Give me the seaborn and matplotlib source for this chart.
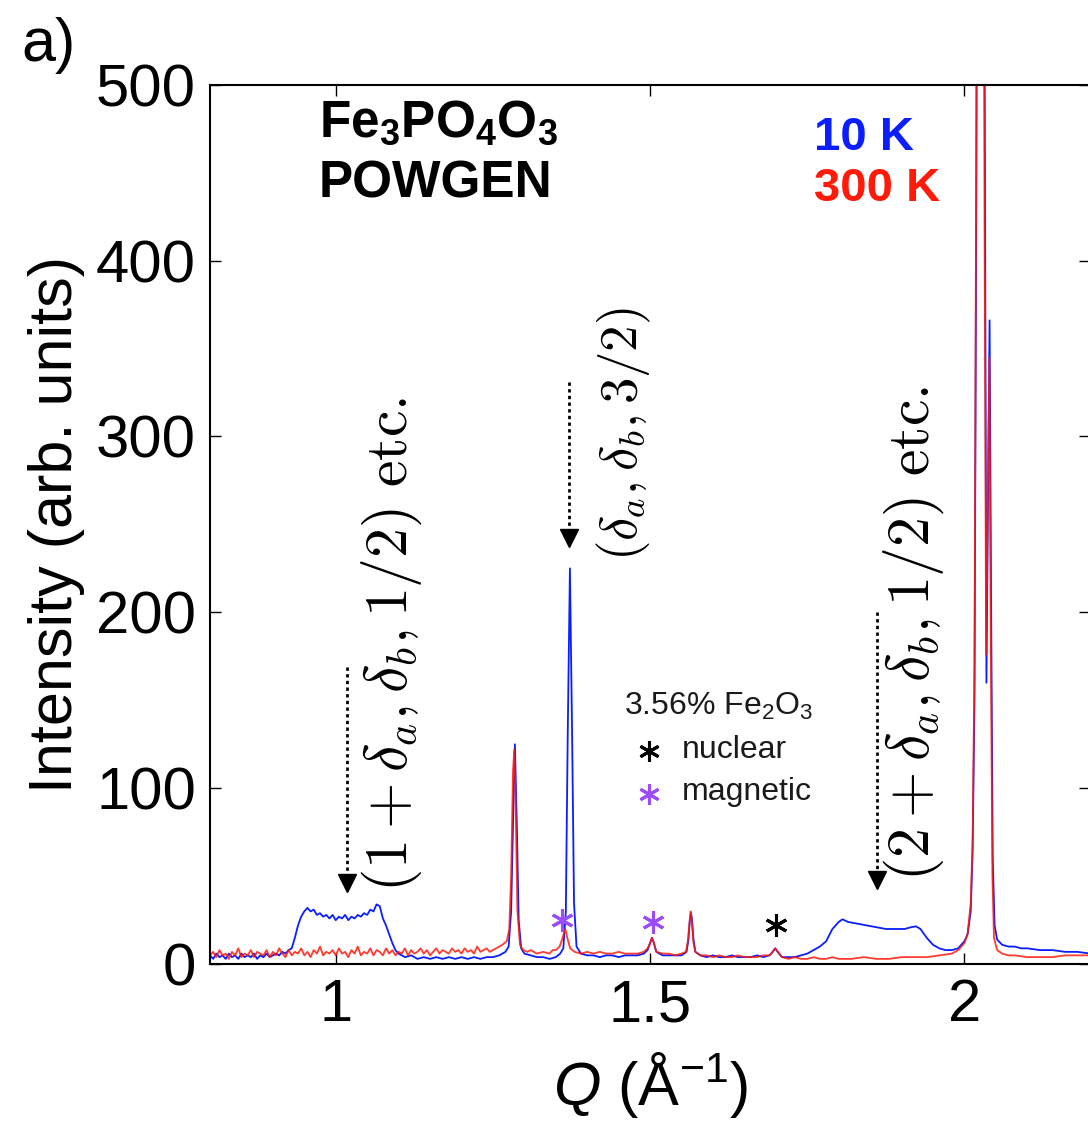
import numpy as np
import pandas as pd
import seaborn as sns
import matplotlib.pyplot as plt

# ---- data: Q (1/A) and intensity (arb. units) ----
# 10 K (blue)
base_q_10k = np.round(np.arange(0.800, 0.9301, 0.005), 3)
base_i_10k = [5, 3, 6, 4, 5, 3, 6, 4, 5, 3, 6, 4, 5, 4, 6, 3, 5, 4, 6, 4, 5, 6, 5, 7, 6, 8, 9]
q_10k = [0.935, 0.940, 0.945, 0.950, 0.955, 0.960, 0.965, 0.970, 0.975, 0.980, 0.985, 0.990,
         0.995, 1.000, 1.005, 1.010, 1.015, 1.020, 1.025, 1.030, 1.035, 1.040, 1.045, 1.050,
         1.055, 1.060, 1.065, 1.070, 1.075, 1.080, 1.085, 1.090, 1.095, 1.100, 1.105,
         1.11, 1.12, 1.13, 1.14, 1.15, 1.16, 1.17, 1.18, 1.19, 1.20, 1.21, 1.22, 1.23, 1.24,
         1.25, 1.26, 1.27, 1.275, 1.279, 1.282, 1.285, 1.288, 1.291, 1.295, 1.300,
         1.31, 1.32, 1.33, 1.34, 1.35, 1.357, 1.362, 1.366, 1.369, 1.3725, 1.376, 1.379, 1.383,
         1.39, 1.40, 1.41, 1.42, 1.43, 1.44, 1.45, 1.46, 1.47, 1.48, 1.49, 1.496, 1.500, 1.503,
         1.506, 1.510, 1.52, 1.53, 1.54, 1.55, 1.558, 1.561, 1.5635, 1.565, 1.5665, 1.569, 1.572,
         1.58, 1.59, 1.60, 1.61, 1.62, 1.63, 1.64, 1.65, 1.66, 1.67, 1.68, 1.69, 1.695, 1.699,
         1.703, 1.71, 1.72, 1.73, 1.74, 1.75, 1.76, 1.77, 1.78, 1.79, 1.80, 1.806, 1.815, 1.83,
         1.845, 1.86, 1.875, 1.89, 1.905, 1.915, 1.923, 1.93, 1.94, 1.95, 1.96, 1.97, 1.98, 1.99,
         2.00, 2.005, 2.010, 2.013, 2.016, 2.019, 2.022, 2.026, 2.030, 2.033, 2.035, 2.0375,
         2.040, 2.0425, 2.045, 2.048, 2.052, 2.06, 2.07, 2.08, 2.09, 2.10, 2.12, 2.14, 2.16,
         2.18, 2.20]
i_10k = [15, 22, 27, 30, 32, 30, 31, 28, 29, 27, 28, 26,
         28, 25, 27, 26, 28, 25, 27, 26, 28, 27, 29, 28,
         31, 30, 34, 33, 26, 22, 17, 12, 8, 6, 5,
         4, 5, 3, 4, 3, 4, 3, 4, 3, 4, 3, 4, 3, 4,
         4, 5, 7, 10, 30, 80, 125, 80, 25, 9, 6,
         5, 4, 4, 3, 4, 6, 9, 30, 130, 225, 130, 35, 10,
         6, 5, 5, 4, 5, 5, 4, 5, 5, 5, 6, 8, 12, 15,
         12, 7, 5, 5, 5, 5, 7, 14, 26, 29, 26, 14, 7,
         5, 4, 5, 4, 4, 5, 4, 4, 4, 5, 4, 5, 7, 9,
         7, 4, 4, 4, 5, 6, 8, 10, 13, 20, 24, 25.5, 24, 23,
         22, 21, 20, 20, 20, 21, 21.5, 20, 15, 11, 9, 8, 8, 9,
         13, 17, 30, 64, 150, 450, 900, 1200, 800, 400, 160, 260,
         366, 200, 60, 22, 14, 11, 10, 10, 9, 9, 8, 8, 7,
         7, 6]

# 300 K (red)
base_q_300k = np.round(np.arange(0.800, 1.2651, 0.005), 3)
base_i_300k = [5, 7, 4, 8, 5, 6, 3, 7, 5, 9, 4, 6, 5, 8, 4, 7, 6, 5, 8, 4,
               7, 5, 9, 6, 4, 8, 5, 7, 6, 9, 5, 7, 4, 8, 6, 10, 5, 7, 6, 8,
               5, 9, 6, 7, 4, 8, 6, 10, 5, 7, 6, 9, 5, 8, 7, 5, 9, 6, 8, 5,
               7, 6, 9, 5, 8, 6, 7, 9, 6, 8, 5, 7, 9, 6, 8, 7, 6, 9, 7, 8,
               6, 9, 7, 8, 6, 10, 7, 8, 9, 7, 8, 9, 10, 11]
q_300k = [1.272, 1.276, 1.279, 1.282, 1.284, 1.286, 1.289, 1.293, 1.298, 1.305, 1.31, 1.32,
          1.33, 1.34, 1.345, 1.350, 1.356, 1.360, 1.365, 1.369, 1.373, 1.38, 1.39, 1.40, 1.41,
          1.42, 1.43, 1.44, 1.45, 1.46, 1.47, 1.48, 1.49, 1.496, 1.500, 1.503, 1.506, 1.510,
          1.52, 1.53, 1.54, 1.55, 1.557, 1.560, 1.563, 1.5645, 1.566, 1.569, 1.572, 1.58, 1.59,
          1.60, 1.61, 1.62, 1.63, 1.64, 1.65, 1.66, 1.67, 1.68, 1.69, 1.695, 1.699, 1.703, 1.71,
          1.72, 1.73, 1.74, 1.75, 1.76, 1.77, 1.78, 1.79, 1.80, 1.82, 1.84, 1.86, 1.88, 1.90,
          1.92, 1.94, 1.96, 1.98, 1.99, 2.00, 2.005, 2.010, 2.013, 2.016, 2.019, 2.022, 2.025,
          2.029, 2.032, 2.0345, 2.037, 2.0395, 2.042, 2.0445, 2.047, 2.052, 2.06, 2.07, 2.08,
          2.10, 2.12, 2.14, 2.16, 2.18, 2.20]
i_300k = [13, 20, 50, 110, 122, 95, 30, 11, 8, 7, 8, 6,
          7, 6, 8, 8, 10, 14, 20, 14, 9, 7, 6, 7, 6,
          7, 6, 6, 7, 6, 6, 6, 7, 9, 12, 15, 12, 7,
          6, 6, 5, 6, 7, 13, 25, 30, 26, 12, 7, 5, 5,
          4, 5, 4, 4, 5, 4, 4, 4, 5, 5, 7, 9, 7, 4,
          3, 4, 3, 3, 4, 3, 3, 4, 3, 3, 4, 3, 3, 4,
          4, 4, 5, 6, 8, 12, 17, 35, 70, 170, 480, 950, 1250,
          850, 420, 176, 260, 345, 180, 50, 15, 8, 6, 5, 5,
          4, 4, 4, 5, 5, 5]

# Fe2O3 impurity peaks (Q, intensity of marker)
mag_q = [1.360, 1.505]
mag_i = [25, 24]
nuc_q = [1.701]
nuc_i = [22]

blue = '#0a1eff'
red = '#ff1a0a'
purple = '#9a4dff'

df10 = pd.DataFrame({'Q': np.concatenate([base_q_10k, q_10k]),
                     'I': np.concatenate([base_i_10k, i_10k])})
df300 = pd.DataFrame({'Q': np.concatenate([base_q_300k, q_300k]),
                      'I': np.concatenate([base_i_300k, i_300k])})

sns.set_style('ticks')
plt.rcParams['font.family'] = ['Liberation Sans', 'DejaVu Sans']
plt.rcParams['mathtext.fontset'] = 'custom'
plt.rcParams['mathtext.rm'] = 'Liberation Sans'
plt.rcParams['mathtext.it'] = 'Liberation Sans:italic'
plt.rcParams['mathtext.bf'] = 'Liberation Sans:bold'
for k in ['text.color', 'axes.labelcolor', 'xtick.color', 'ytick.color', 'axes.edgecolor']:
    plt.rcParams[k] = 'black'

fig = plt.figure(figsize=(10.88, 11.29), dpi=100)
ax = fig.add_axes([0.193, 0.146, 0.809, 0.779])

sns.lineplot(data=df10, x='Q', y='I', ax=ax, color=blue, lw=1.3, sort=False, estimator=None)
sns.lineplot(data=df300, x='Q', y='I', ax=ax, color=red, lw=1.3, sort=False, estimator=None, alpha=0.85)

ax.set_xlim(0.8, 2.2)
ax.set_ylim(0, 500)
ax.set_xticks([1, 1.5, 2])
ax.set_xticklabels(['1', '1.5', '2'])
ax.set_yticks([0, 100, 200, 300, 400, 500])
ax.tick_params(direction='in', length=8, width=1, labelsize=43, top=True, right=True, pad=10)
for s in ax.spines.values():
    s.set_linewidth(1.5)

ax.set_ylabel('Intensity (arb. units)', fontsize=44, labelpad=8)
ax.set_xlabel(r'$Q$ (Å$^{\mathregular{-1}}$)', fontsize=44, labelpad=12)

fig.text(0.02, 0.985, 'a)', fontsize=44, ha='left', va='top')

# sample / instrument
ax.text(0.973, 492, r'Fe$_\mathbf{3}$PO$_\mathbf{4}$O$_\mathbf{3}$' + '\nPOWGEN', fontsize=37,
        fontweight='bold', ha='left', va='top', linespacing=1.3)
ax.text(1.761, 482, '10 K', color=blue, fontsize=34, fontweight='bold', ha='left', va='top')
ax.text(1.761, 453, '300 K', color=red, fontsize=34, fontweight='bold', ha='left', va='top')

# impurity legend
ax.text(1.459, 146.5, r'3.56% Fe$_2$O$_3$', fontsize=23, color='#1a1a1a', ha='left', va='center')
ax.text(1.551, 122, 'nuclear', fontsize=23, color='#1a1a1a', ha='left', va='center')
ax.text(1.551, 98, 'magnetic', fontsize=23, color='#1a1a1a', ha='left', va='center')
ax.plot([1.498], [121], marker=(6, 2, 0), ms=15, mew=2.2, color='black', ls='none')
ax.plot([1.498], [97], marker=(6, 2, 0), ms=15, mew=2.2, color=purple, ls='none')
ax.plot(mag_q, mag_i, marker=(6, 2, 0), ms=16, mew=2.2, color=purple, ls='none')
ax.plot(nuc_q, nuc_i, marker=(6, 2, 0), ms=16, mew=2.2, color='black', ls='none')

# propagation vector arrows
arrows = [(1.0175, 169, 46), (1.371, 331, 242), (1.861, 200, 48)]
for q, top, tip in arrows:
    ax.plot([q, q], [top, tip + 3], color='black', lw=2, ls=(0, (1.2, 1.2)))
    ax.plot([q], [tip], marker='v', ms=13, color='black', ls='none')

labels = [(1.089, 41, r'$(1+\delta_a,\delta_b,1/2)\ \mathrm{etc.}$', 43),
          (1.459, 229, r'$(\delta_a,\delta_b,3/2)$', 38),
          (1.920, 47, r'$(2+\delta_a,\delta_b,1/2)\ \mathrm{etc.}$', 43)]
for q, y, txt, fs in labels:
    ax.text(q, y, txt, rotation=90, fontsize=fs, ha='center', va='bottom', math_fontfamily='cm')

fig.savefig('out.png', dpi=100)
